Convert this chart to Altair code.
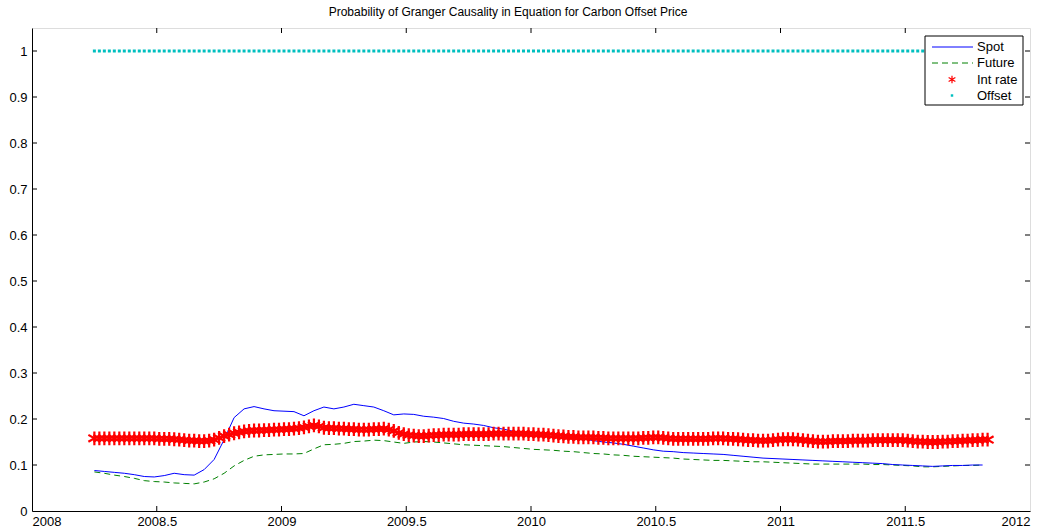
import altair as alt
import pandas as pd

# sample dates (two-week grid) from 2008.25 to 2011.81
years = [round(2008.25 + 0.04 * i, 2) for i in range(90)]

spot = [0.088, 0.086, 0.084, 0.082, 0.079, 0.075, 0.074, 0.077, 0.082, 0.079,
        0.078, 0.090, 0.112, 0.155, 0.203, 0.222, 0.227, 0.222, 0.218, 0.217,
        0.216, 0.207, 0.218, 0.226, 0.222, 0.226, 0.232, 0.229, 0.226, 0.218,
        0.209, 0.211, 0.210, 0.206, 0.204, 0.201, 0.195, 0.191, 0.189, 0.186,
        0.181, 0.178, 0.173, 0.171, 0.169, 0.167, 0.166, 0.163, 0.160, 0.157,
        0.153, 0.150, 0.148, 0.145, 0.141, 0.137, 0.133, 0.130, 0.129, 0.127,
        0.126, 0.125, 0.124, 0.123, 0.121, 0.119, 0.117, 0.115, 0.114, 0.113,
        0.112, 0.111, 0.110, 0.109, 0.108, 0.107, 0.106, 0.105, 0.104, 0.103,
        0.101, 0.100, 0.099, 0.098, 0.097, 0.098, 0.099, 0.099, 0.100, 0.100]

future = [0.085, 0.082, 0.078, 0.075, 0.071, 0.066, 0.064, 0.063, 0.061, 0.060,
          0.059, 0.063, 0.070, 0.082, 0.098, 0.110, 0.119, 0.122, 0.123, 0.124,
          0.124, 0.125, 0.135, 0.144, 0.145, 0.147, 0.151, 0.152, 0.154, 0.153,
          0.150, 0.147, 0.150, 0.151, 0.150, 0.148, 0.146, 0.144, 0.143, 0.142,
          0.141, 0.140, 0.138, 0.136, 0.134, 0.133, 0.132, 0.130, 0.129, 0.127,
          0.125, 0.124, 0.122, 0.121, 0.119, 0.118, 0.117, 0.116, 0.115, 0.113,
          0.112, 0.111, 0.110, 0.110, 0.109, 0.108, 0.107, 0.107, 0.106, 0.105,
          0.104, 0.103, 0.102, 0.102, 0.102, 0.102, 0.102, 0.102, 0.101, 0.101,
          0.100, 0.099, 0.098, 0.096, 0.096, 0.097, 0.098, 0.099, 0.099, 0.100]

# weekly grid from 2008.25 to 2011.83
weekly_years = [round(2008.25 + 0.02 * i, 2) for i in range(180)]

int_rate = [0.158, 0.158, 0.158, 0.158, 0.158, 0.158, 0.158, 0.158, 0.158, 0.158,
            0.158, 0.158, 0.158, 0.157, 0.157, 0.157, 0.156, 0.155, 0.154, 0.153,
            0.153, 0.152, 0.152, 0.153, 0.155, 0.159, 0.163, 0.166, 0.169, 0.171,
            0.173, 0.174, 0.175, 0.175, 0.176, 0.176, 0.177, 0.177, 0.178, 0.178,
            0.179, 0.180, 0.182, 0.184, 0.186, 0.184, 0.181, 0.180, 0.180, 0.179,
            0.179, 0.178, 0.178, 0.177, 0.177, 0.177, 0.178, 0.178, 0.179, 0.177,
            0.174, 0.170, 0.167, 0.165, 0.164, 0.163, 0.163, 0.164, 0.165, 0.165,
            0.166, 0.166, 0.166, 0.166, 0.167, 0.167, 0.167, 0.167, 0.167, 0.167,
            0.168, 0.168, 0.168, 0.168, 0.168, 0.168, 0.168, 0.167, 0.167, 0.166,
            0.166, 0.165, 0.164, 0.163, 0.162, 0.161, 0.161, 0.160, 0.160, 0.160,
            0.160, 0.159, 0.159, 0.158, 0.158, 0.158, 0.158, 0.158, 0.158, 0.158,
            0.159, 0.159, 0.160, 0.160, 0.159, 0.158, 0.157, 0.157, 0.157, 0.157,
            0.157, 0.157, 0.157, 0.157, 0.158, 0.158, 0.158, 0.157, 0.157, 0.156,
            0.155, 0.154, 0.154, 0.153, 0.153, 0.153, 0.154, 0.155, 0.156, 0.156,
            0.156, 0.155, 0.154, 0.153, 0.152, 0.151, 0.151, 0.151, 0.152, 0.152,
            0.152, 0.152, 0.153, 0.153, 0.153, 0.153, 0.154, 0.154, 0.154, 0.154,
            0.154, 0.154, 0.154, 0.153, 0.152, 0.151, 0.151, 0.150, 0.150, 0.150,
            0.151, 0.151, 0.152, 0.152, 0.153, 0.153, 0.154, 0.154, 0.155, 0.155]

# Offset probability: always 1
offset = [1.0] * 180

x_ticks = [2008, 2008.5, 2009, 2009.5, 2010, 2010.5, 2011, 2011.5, 2012]
y_ticks = [0, 0.1, 0.2, 0.3, 0.4, 0.5, 0.6, 0.7, 0.8, 0.9, 1]

legend_labels = ["Spot", "Future", "Int rate", "Offset"]

TITLE = "Probability of Granger Causality in Equation for Carbon Offset Price"
STAR = "M0,-1L0,1M-0.87,-0.5L0.87,0.5M-0.87,0.5L0.87,-0.5"
FONT = "Liberation Sans"

W, H = 998, 483

df = pd.DataFrame({"year": years, "spot": spot, "future": future})
df_w = pd.DataFrame({"year": weekly_years, "int_rate": int_rate, "offset": offset})

xscale = alt.Scale(domain=[2008, 2012], nice=False, zero=False)
yscale = alt.Scale(domain=[0, 1.05], nice=False, zero=True)

xaxis = alt.Axis(values=x_ticks, format="~g", title=None, grid=False, tickSize=0,
                 labelPadding=4, domain=True, labelFont=FONT, labelFontSize=13,
                 labelColor="black", domainColor="black")
yaxis = alt.Axis(values=y_ticks, format="~g", title=None, grid=False, tickSize=0,
                 labelPadding=5, domain=True, labelFont=FONT, labelFontSize=13,
                 labelColor="black", domainColor="black")


def X(field):
    return alt.X(field, scale=xscale, axis=xaxis, title=None)


def Y(field):
    return alt.Y(field, scale=yscale, axis=yaxis, title=None)


base = alt.Chart(df)

spot_line = base.mark_line(color="#0000ff", strokeWidth=1).encode(
    x=X("year:Q"), y=Y("spot:Q"))
future_line = base.mark_line(color="#008000", strokeWidth=1, strokeDash=[6, 4]).encode(
    x=X("year:Q"), y=Y("future:Q"))
int_pts = alt.Chart(df_w).mark_point(shape=STAR, color="#ff0000", filled=False, size=190,
                                     strokeWidth=2.2, opacity=1).encode(
    x=X("year:Q"), y=Y("int_rate:Q"))
off_pts = alt.Chart(df_w).mark_square(color="#00bfbf", size=9, opacity=1).encode(
    x=X("year:Q"), y=Y("offset:Q"))

# inward ticks (MATLAB style), on all four sides
xt = pd.DataFrame({"v": x_ticks[1:-1]})
yt = pd.DataFrame({"v": y_ticks[1:]})
tick_x_bottom = alt.Chart(xt).mark_rule(color="black", strokeWidth=1).encode(
    x=X("v:Q"), y=alt.value(H), y2=alt.value(H - 5))
tick_x_top = alt.Chart(xt).mark_rule(color="black", strokeWidth=1).encode(
    x=X("v:Q"), y=alt.value(0), y2=alt.value(5))
tick_y_left = alt.Chart(yt).mark_rule(color="black", strokeWidth=1).encode(
    y=Y("v:Q"), x=alt.value(0), x2=alt.value(5))
tick_y_right = alt.Chart(yt).mark_rule(color="black", strokeWidth=1).encode(
    y=Y("v:Q"), x=alt.value(W), x2=alt.value(W - 5))

# legend box
one = pd.DataFrame({"a": [0]})
lg_box = alt.Chart(one).mark_rect(fill="white", stroke="black", strokeWidth=1).encode(
    x=alt.value(893), x2=alt.value(991), y=alt.value(8), y2=alt.value(77))
row_y = [19, 35, 51.5, 67.5]
lg_spot = alt.Chart(one).mark_rule(color="#0000ff", strokeWidth=1).encode(
    x=alt.value(900), x2=alt.value(941), y=alt.value(row_y[0]))
lg_future = alt.Chart(one).mark_rule(color="#008000", strokeWidth=1, strokeDash=[6, 4]).encode(
    x=alt.value(900), x2=alt.value(941), y=alt.value(row_y[1]))
lg_int = alt.Chart(one).mark_point(shape=STAR, color="#ff0000", filled=False, size=60,
                                   strokeWidth=1.2, opacity=1).encode(
    x=alt.value(920), y=alt.value(row_y[2]))
lg_off = alt.Chart(one).mark_square(color="#00bfbf", size=6, opacity=1).encode(
    x=alt.value(920), y=alt.value(row_y[3]))
lg_texts = [
    alt.Chart(one).mark_text(text=lab, align="left", baseline="middle", font=FONT,
                             fontSize=13, color="black").encode(
        x=alt.value(945), y=alt.value(yy))
    for lab, yy in zip(legend_labels, row_y)
]

chart = alt.layer(
    off_pts, future_line, spot_line, int_pts,
    tick_x_bottom, tick_x_top, tick_y_left, tick_y_right,
    lg_box, lg_spot, lg_future, lg_int, lg_off, *lg_texts,
).properties(
    width=W, height=H,
    title=alt.TitleParams(TITLE, fontSize=12, font=FONT, fontWeight="normal",
                          anchor="middle", offset=9, color="black", dx=-23),
    autosize=alt.AutoSizeParams(type="none"),
    padding={"left": 32, "top": 28, "right": 15, "bottom": 18},
).configure_view(
    stroke="black", strokeWidth=1
).configure(background="white")

chart.save("out.html", embed_options={"renderer": "svg", "actions": False})
